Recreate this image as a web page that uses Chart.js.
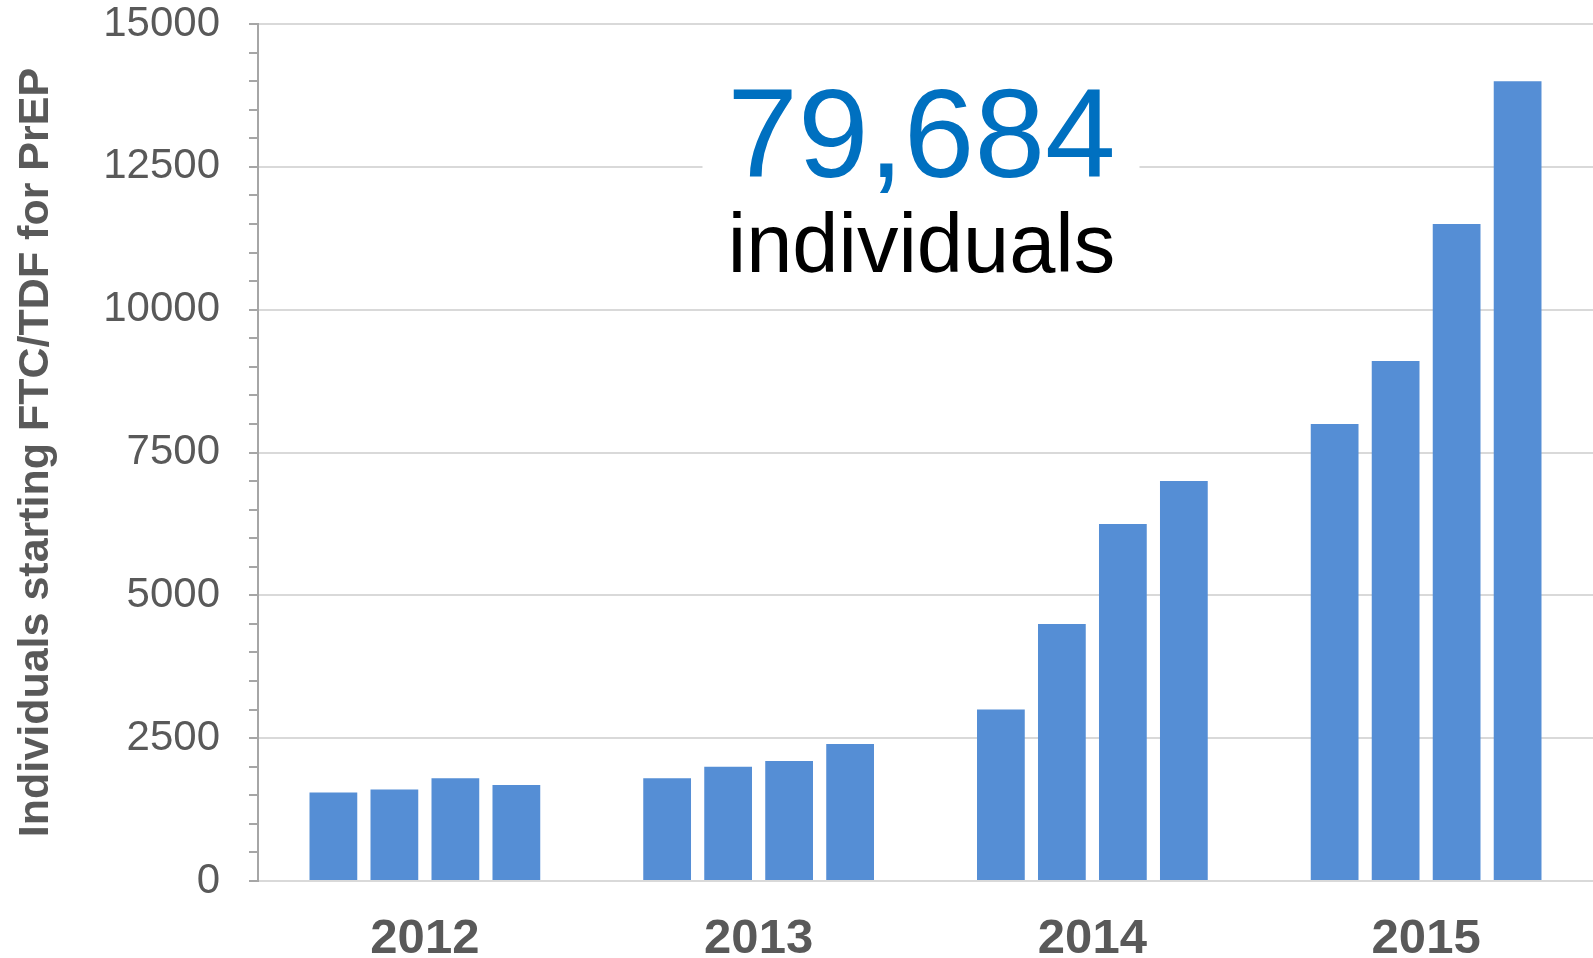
<!DOCTYPE html>
<html>
<head>
<meta charset="utf-8">
<script src="https://cdn.jsdelivr.net/npm/chart.js@4/dist/chart.umd.min.js"></script>
<style>
  html, body { margin: 0; padding: 0; background: #fff; }
  #wrap { width: 1593px; height: 958px; position: relative; }
</style>
</head>
<body>
<div id="wrap"><canvas id="prepChart"></canvas></div>
<script>
const years = ['2012', '2013', '2014', '2015']
// quarterly starts, one array per quarter
const q1 = [1550, 1800, 3000, 8000]
const q2 = [1600, 2000, 4500, 9100]
const q3 = [1800, 2100, 6250, 11500]
const q4 = [1680, 2400, 7000, 14000]
const yTicks = [0, 2500, 5000, 7500, 10000, 12500, 15000]
const totalText = '79,684'
const totalSub = 'individuals'

const FONT = '"Liberation Sans", Arial, sans-serif'
const barColor = '#558ed5'

// big total in the middle of the plot, on a white box that hides the gridline
const totalLabel = {
    id: 'totalLabel',
    beforeDatasetsDraw(chart) {
        const {ctx, scales: {x, y}} = chart
        const cx = (x.getPixelForValue(1) + x.getPixelForValue(2)) / 2 - 4
        ctx.save()
        ctx.fillStyle = '#fff'
        ctx.fillRect(cx - 219, y.getPixelForValue(14000), 437, y.getPixelForValue(10400) - y.getPixelForValue(14000))
        ctx.textAlign = 'center'
        ctx.textBaseline = 'alphabetic'
        ctx.fillStyle = '#0070c0'
        ctx.font = '127px ' + FONT
        ctx.fillText(totalText, cx, y.getPixelForValue(12330))
        ctx.fillStyle = '#000'
        ctx.font = '83px ' + FONT
        ctx.fillText(totalSub, cx, y.getPixelForValue(10660))
        ctx.restore()
    }
}

const mkSet = (label, data) => ({
    label: label,
    data: data,
    backgroundColor: barColor,
    borderWidth: 0,
    categoryPercentage: 0.731,
    barPercentage: 0.783
})

new Chart(document.getElementById('prepChart'), {
    type: 'bar',
    data: {
        labels: years,
        datasets: [mkSet('Q1', q1), mkSet('Q2', q2), mkSet('Q3', q3), mkSet('Q4', q4)]
    },
    options: {
        responsive: true,
        maintainAspectRatio: false,
        animation: false,
        layout: { padding: { top: 24, left: 0, right: 0, bottom: 0 } },
        plugins: { legend: { display: false }, tooltip: { enabled: false } },
        scales: {
            x: {
                grid: { display: false, drawTicks: false },
                border: { color: '#d9d9d9', width: 2 },
                ticks: {
                    color: '#595959',
                    padding: 29,
                    font: { family: FONT, size: 49, weight: 'bold' }
                },
                afterFit: (s) => { s.height = 77 }
            },
            y: {
                min: 0,
                max: 15000,
                grid: {
                    color: (c) => yTicks.includes(c.tick.value) ? '#d9d9d9' : 'rgba(0,0,0,0)',
                    lineWidth: 2,
                    tickColor: '#a6a6a6',
                    tickLength: 9,
                    tickWidth: 2
                },
                border: { color: '#a6a6a6', width: 2 },
                ticks: {
                    stepSize: 500,
                    autoSkip: false,
                    color: '#595959',
                    padding: 29,
                    font: { family: FONT, size: 42 },
                    callback: (v) => yTicks.includes(v) ? String(v) : ''
                },
                title: {
                    display: true,
                    text: 'Individuals starting FTC/TDF for PrEP',
                    color: '#595959',
                    padding: { top: 10, bottom: 0 },
                    font: { family: FONT, size: 43, weight: 'bold' }
                },
                afterFit: (s) => {
                    s.width = 258
                    s.paddingTop = 0
                    s.paddingBottom = 0
                }
            }
        }
    },
    plugins: [totalLabel]
})
</script>
</body>
</html>
